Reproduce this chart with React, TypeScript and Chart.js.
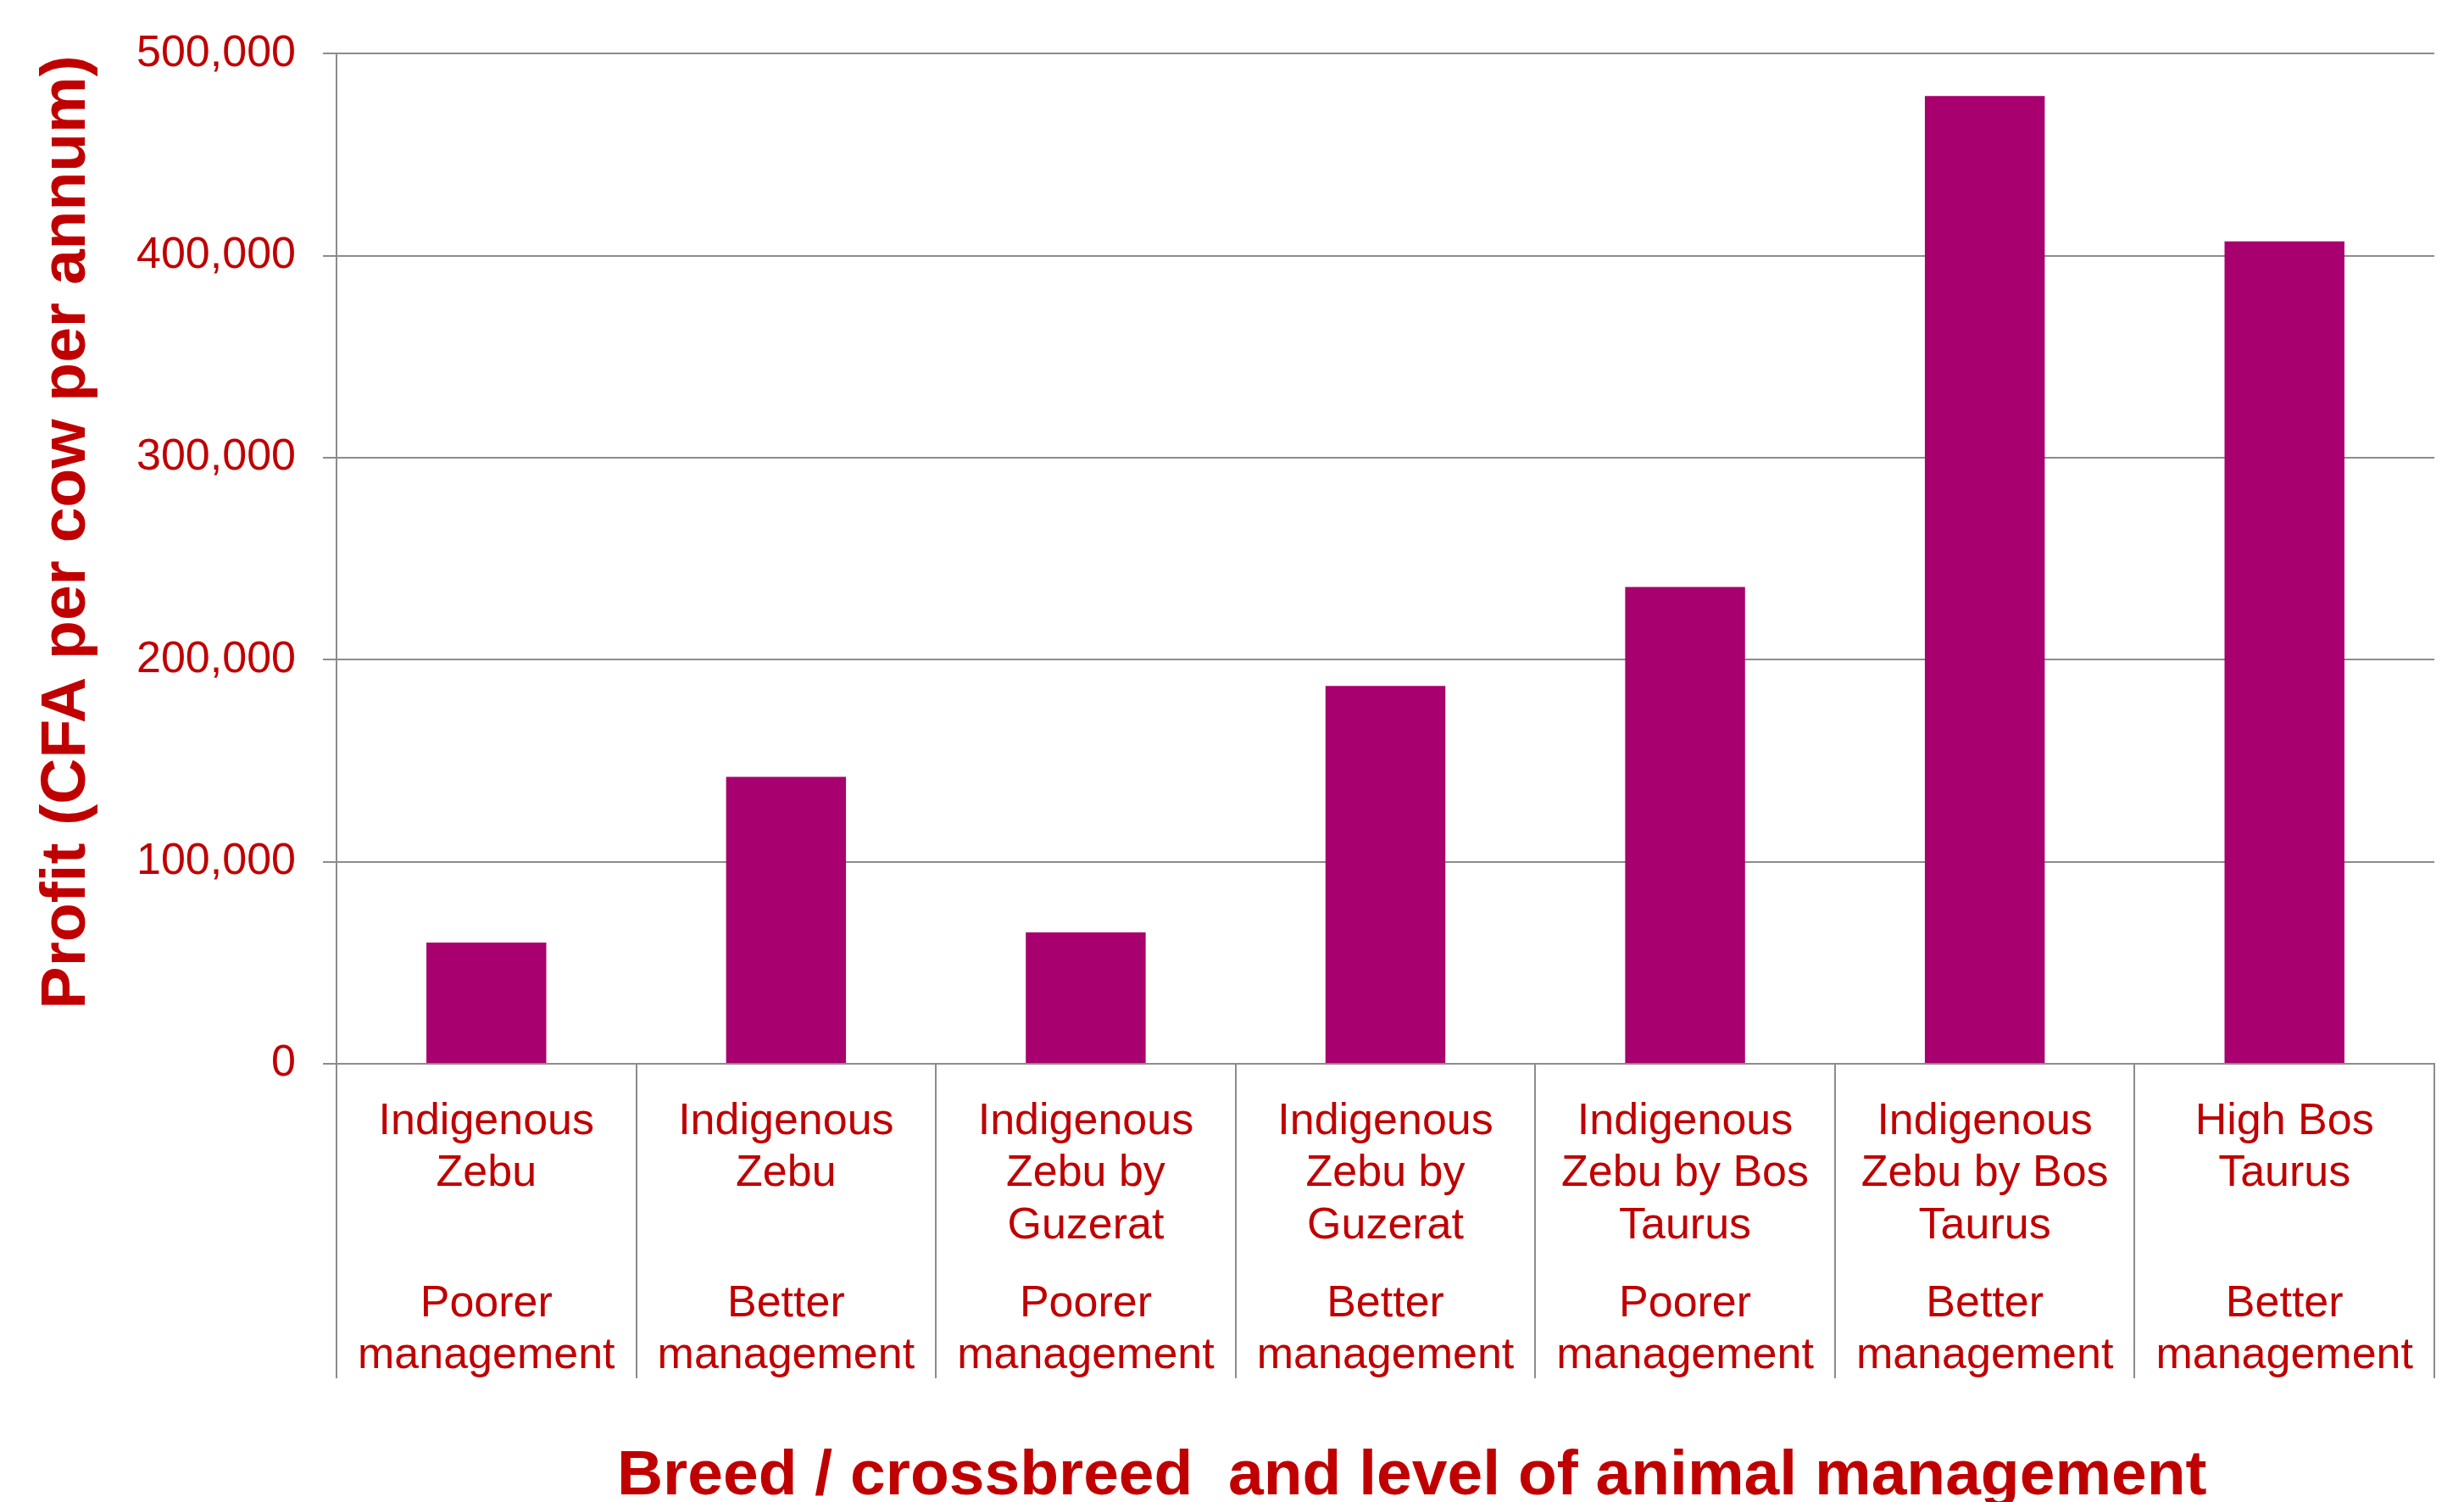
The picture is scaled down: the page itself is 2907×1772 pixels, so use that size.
import { useEffect, useRef } from "react";
import { Chart, registerables } from "chart.js";

Chart.register(...registerables);

// ---- data ----
const breedLines: string[][] = [
  ["Indigenous", "Zebu"],
  ["Indigenous", "Zebu"],
  ["Indigenous", "Zebu by", "Guzerat"],
  ["Indigenous", "Zebu by", "Guzerat"],
  ["Indigenous", "Zebu by Bos", "Taurus"],
  ["Indigenous", "Zebu by Bos", "Taurus"],
  ["High Bos", "Taurus"],
];
const managementLines: string[][] = [
  ["Poorer", "management"],
  ["Better", "management"],
  ["Poorer", "management"],
  ["Better", "management"],
  ["Poorer", "management"],
  ["Better", "management"],
  ["Better", "management"],
];
const profitValues: number[] = [60000, 142000, 65000, 187000, 236000, 479000, 407000];
const yMin = 0;
const yMax = 500000;
const yStep = 100000;
const yTitle = "Profit (CFA per cow per annum)";
const xTitle = "Breed / crossbreed  and level of animal management";

// ---- styles ----
const RED = "#C00000";
const BAR = "#A8006E";
const GRID = "#8C8C8C";
const FAMILY = "'Liberation Sans', Arial, Helvetica, sans-serif";
const TITLE_LEAD = "   "; // leading spaces nudge the centred titles as in the original

// Labels are laid out on half-line steps so that a 1.5-line gap separates breed and management
function buildLabel(breed: string[], mgmt: string[]): string[] {
  const out: string[] = [];
  for (let i = 0; i < 3; i++) {
    out.push(breed[i] ?? "");
    out.push("");
  }
  out.push("");
  out.push(mgmt[0]);
  out.push("");
  out.push(mgmt[1]);
  return out;
}

const categoryLabels = breedLines.map((b, i) => buildLabel(b, managementLines[i]));

export default function App() {
  const ref = useRef<HTMLCanvasElement | null>(null);

  useEffect(() => {
    if (!ref.current) return;
    const chart = new Chart(ref.current, {
      type: "bar",
      data: {
        labels: categoryLabels,
        datasets: [
          {
            data: profitValues,
            backgroundColor: BAR,
            borderWidth: 0,
            barPercentage: 0.4,
            categoryPercentage: 1.0,
          },
        ],
      },
      options: {
        animation: false,
        responsive: false,
        devicePixelRatio: 1,
        layout: { padding: { top: 63, right: 35, bottom: 0, left: 0 } },
        plugins: {
          legend: { display: false },
          tooltip: { enabled: false },
          title: { display: false },
        },
        scales: {
          x: {
            offset: true,
            grid: {
              display: true,
              offset: true,
              drawOnChartArea: false,
              drawTicks: true,
              tickLength: 371,
              color: GRID,
              lineWidth: 2,
            },
            border: { display: true, color: GRID, width: 2 },
            ticks: {
              autoSkip: false,
              maxRotation: 0,
              minRotation: 0,
              padding: -318,
              color: RED,
              font: { family: FAMILY, size: 52, lineHeight: "30.75px" },
            },
            title: {
              display: true,
              text: TITLE_LEAD + xTitle,
              color: RED,
              font: { family: FAMILY, size: 75, weight: "bold", lineHeight: 0.8 },
              padding: { top: 0, bottom: 0 },
            },
            afterFit: (s: any) => {
              s.height = 517;
            },
          },
          y: {
            min: yMin,
            max: yMax,
            ticks: {
              stepSize: yStep,
              padding: 32,
              color: RED,
              font: { family: FAMILY, size: 52 },
              callback: (v: any) => Number(v).toLocaleString("en-US"),
            },
            grid: { color: GRID, lineWidth: 2, drawTicks: true, tickLength: 16 },
            border: { display: true, color: GRID, width: 2 },
            title: {
              display: true,
              text: TITLE_LEAD + yTitle,
              color: RED,
              font: { family: FAMILY, size: 75, weight: "bold", lineHeight: 1 },
              padding: { top: 42, bottom: 0 },
            },
            afterFit: (s: any) => {
              s.width = 397;
            },
          },
        },
      } as any,
    });
    return () => chart.destroy();
  }, []);

  return (
    <div style={{ position: "fixed", left: 0, top: 0, width: 2907, height: 1772, background: "#fff" }}>
      <canvas ref={ref} width={2907} height={1772} style={{ display: "block", width: 2907, height: 1772 }} />
    </div>
  );
}
